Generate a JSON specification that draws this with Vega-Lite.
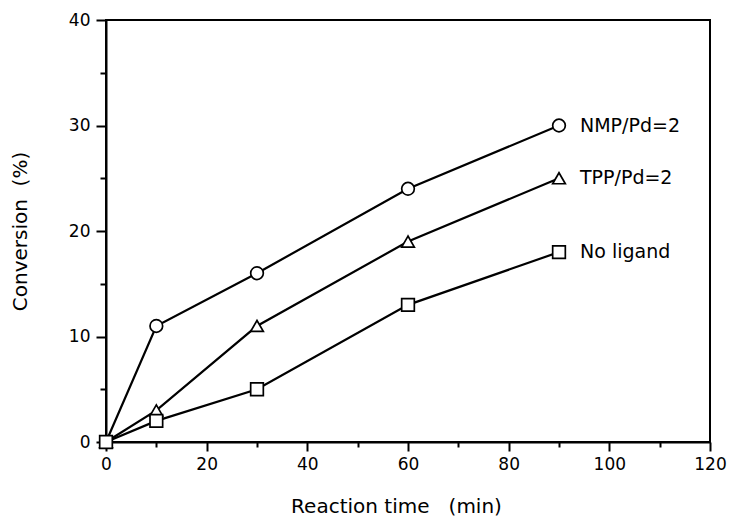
{
  "$schema": "https://vega.github.io/schema/vega-lite/v6.json",
  "autosize": {"type": "none"},
  "padding": {"left": 106, "top": 20, "right": 21, "bottom": 76},
  "width": 604,
  "height": 422,
  "background": "white",
  "config": {
    "view": {"stroke": "black", "strokeWidth": 2},
    "font": "DejaVu Sans"
  },
  "data": {
    "values": [
      {"series": "NMP/Pd=2", "time": 0, "conv": 0},
      {"series": "NMP/Pd=2", "time": 10, "conv": 11},
      {"series": "NMP/Pd=2", "time": 30, "conv": 16},
      {"series": "NMP/Pd=2", "time": 60, "conv": 24},
      {"series": "NMP/Pd=2", "time": 90, "conv": 30},
      {"series": "TPP/Pd=2", "time": 0, "conv": 0},
      {"series": "TPP/Pd=2", "time": 10, "conv": 3},
      {"series": "TPP/Pd=2", "time": 30, "conv": 11},
      {"series": "TPP/Pd=2", "time": 60, "conv": 19},
      {"series": "TPP/Pd=2", "time": 90, "conv": 25},
      {"series": "No ligand", "time": 0, "conv": 0},
      {"series": "No ligand", "time": 10, "conv": 2},
      {"series": "No ligand", "time": 30, "conv": 5},
      {"series": "No ligand", "time": 60, "conv": 13},
      {"series": "No ligand", "time": 90, "conv": 18}
    ]
  },
  "encoding": {
    "x": {
      "field": "time", "type": "quantitative",
      "scale": {"domain": [0, 120], "nice": false, "zero": false},
      "axis": {
        "title": "Reaction time\u00a0\u00a0\u00a0(min)",
        "values": [0, 10, 20, 30, 40, 50, 60, 70, 80, 90, 100, 110, 120],
        "labelExpr": "datum.value % 20 === 0 ? datum.label : ''",
        "grid": false,
        "domainColor": "black", "domainWidth": 2,
        "tickColor": "black", "tickWidth": 2,
        "tickSize": {"condition": {"test": "datum.value % 20 === 0", "value": 9}, "value": 5},
        "labelFontSize": 17, "labelColor": "black", "labelPadding": 5,
        "labelFlush": false, "labelOverlap": false,
        "titleFontSize": 20, "titleFontWeight": "normal", "titleColor": "black",
        "titleBaseline": "alphabetic", "titleY": 70, "titleX": 290, "titleAlign": "center"
      }
    },
    "y": {
      "field": "conv", "type": "quantitative",
      "scale": {"domain": [0, 40], "nice": false},
      "axis": {
        "title": "Conversion\u00a0\u00a0(%)",
        "values": [0, 5, 10, 15, 20, 25, 30, 35, 40],
        "labelExpr": "datum.value % 10 === 0 ? datum.label : ''",
        "grid": false,
        "domainColor": "black", "domainWidth": 2,
        "tickColor": "black", "tickWidth": 2,
        "tickSize": {"condition": {"test": "datum.value % 10 === 0", "value": 10}, "value": 6},
        "labelFontSize": 17, "labelColor": "black", "labelPadding": 6,
        "labelFlush": false, "labelOverlap": false,
        "titleFontSize": 20, "titleFontWeight": "normal", "titleColor": "black",
        "titleX": -86, "titleBaseline": "middle"
      }
    }
  },
  "layer": [
    {
      "mark": {"type": "line", "color": "black", "strokeWidth": 2.2},
      "encoding": {"detail": {"field": "series"}}
    },
    {
      "mark": {"type": "point", "filled": true, "fill": "white", "stroke": "black", "strokeWidth": 1.7, "size": 160, "opacity": 1},
      "encoding": {
        "shape": {
          "field": "series", "type": "nominal",
          "scale": {"domain": ["NMP/Pd=2", "TPP/Pd=2", "No ligand"], "range": ["circle", "triangle-up", "square"]},
          "legend": null
        }
      }
    },
    {
      "transform": [{"filter": "datum.time === 90"}],
      "mark": {"type": "text", "align": "left", "baseline": "middle", "dx": 21, "fontSize": 19, "color": "black"},
      "encoding": {"text": {"field": "series"}}
    }
  ]
}
